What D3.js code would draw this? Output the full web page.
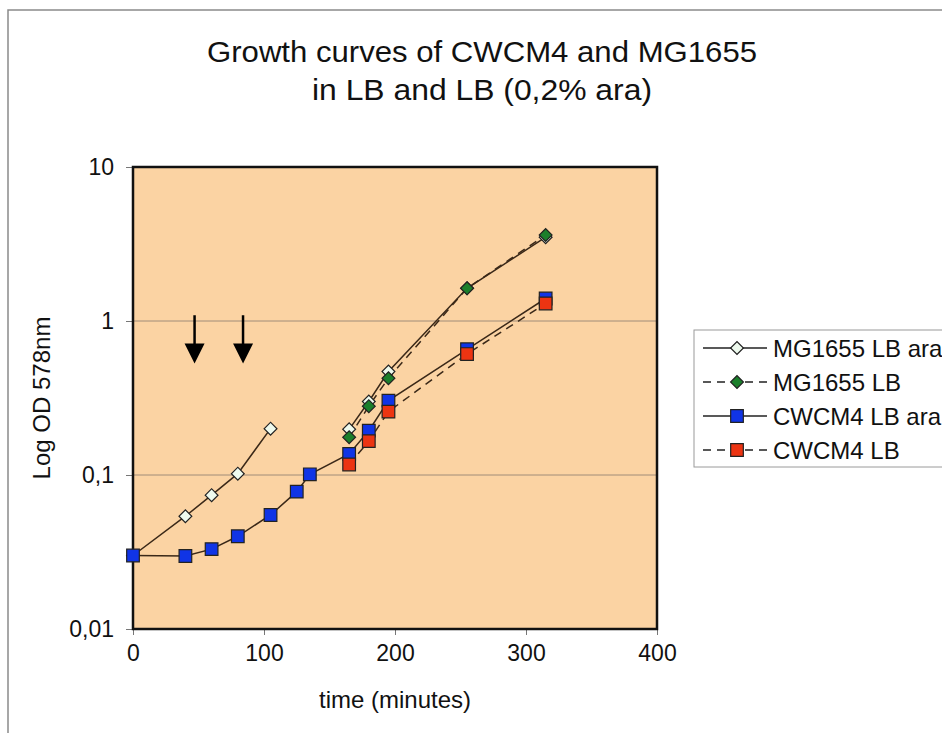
<!DOCTYPE html>
<html>
<head>
<meta charset="utf-8">
<script src="https://cdn.jsdelivr.net/npm/d3@7"></script>
<style>
  body { margin: 0; background: #fff; }
  svg { display: block; font-family: "Liberation Sans", Arial, sans-serif; }
</style>
</head>
<body>
<div id="chart"></div>
<script>
// data (time in minutes, OD578)
let seriesNames = ['MG1655 LB ara', 'MG1655 LB', 'CWCM4 LB ara', 'CWCM4 LB'];
let mgAraTime = [0, 40, 60, 80, 105, null, 165, 180, 195, 255, 315];
let mgAraOD   = [0.030, 0.054, 0.074, 0.102, 0.20, null, 0.198, 0.30, 0.47, 1.63, 3.5];
let mgLbTime  = [165, 180, 195, 255, 315];
let mgLbOD    = [0.176, 0.28, 0.425, 1.63, 3.62];
let cwAraTime = [0, 40, 60, 80, 105, 125, 135, 165, 180, 195, 255, 315];
let cwAraOD   = [0.030, 0.0298, 0.033, 0.040, 0.055, 0.078, 0.101, 0.137, 0.194, 0.304, 0.655, 1.40];
let cwLbTime  = [165, 180, 195, 255, 315];
let cwLbOD    = [0.117, 0.166, 0.258, 0.61, 1.30];
let xTicks = [0, 100, 200, 300, 400];
let yTicks = [10, 1, 0.1, 0.01];
let yTickLabels = ['10', '1', '0,1', '0,01'];
let gridValues = [1, 0.1];
// arrows mark additions of arabinose
let arrowTime = [47, 84];
let arrowTop = 1.09, arrowTip = 0.53;

let width = 942, height = 733;
let plotL = 133, plotR = 657, plotT = 167, plotB = 629;

let svg = d3.select('#chart').append('svg')
  .attr('width', width)
  .attr('height', height);

// slide frame
svg.append('path')
  .attr('d', 'M8,733 V10 H942')
  .attr('fill', 'none')
  .attr('stroke', '#8a8a8a')
  .attr('stroke-width', 1.5);

let x = d3.scaleLinear().domain([0, 400]).range([plotL, plotR]);
let y = d3.scaleLog().domain([0.01, 10]).range([plotB, plotT]);

// title
let title = svg.append('text')
  .attr('text-anchor', 'middle')
  .attr('font-size', 29)
  .attr('fill', '#111');
title.append('tspan').attr('x', 482).attr('y', 62)
  .attr('textLength', 550).attr('lengthAdjust', 'spacingAndGlyphs')
  .text('Growth curves of CWCM4 and MG1655');
title.append('tspan').attr('x', 482).attr('y', 100)
  .attr('textLength', 340).attr('lengthAdjust', 'spacingAndGlyphs')
  .text('in LB and LB (0,2% ara)');

// plot area
svg.append('rect')
  .attr('x', plotL).attr('y', plotT)
  .attr('width', plotR - plotL).attr('height', plotB - plotT)
  .attr('fill', '#fbd3a3');

svg.selectAll('.grid')
  .data(gridValues)
  .enter()
  .append('line')
  .attr('x1', plotL).attr('x2', plotR)
  .attr('y1', d => y(d)).attr('y2', d => y(d))
  .attr('stroke', '#a08c78')
  .attr('stroke-width', 1);

// axes
let xAxis = d3.axisBottom(x).tickValues(xTicks).tickSize(6).tickSizeOuter(0).tickPadding(10);
let yAxis = d3.axisLeft(y).tickValues(yTicks).tickSize(7).tickSizeOuter(0).tickPadding(12)
  .tickFormat((d, i) => yTickLabels[i]);

let gx = svg.append('g').attr('transform', 'translate(0,' + plotB + ')').call(xAxis);
let gy = svg.append('g').attr('transform', 'translate(' + plotL + ',0)').call(yAxis);
[gx, gy].forEach(g => {
  g.select('.domain').remove();
  g.selectAll('line').attr('stroke', '#777');
  g.selectAll('text').attr('font-size', 23).attr('fill', '#111').attr('font-family', '"Liberation Sans", Arial, sans-serif');
});

svg.append('rect')
  .attr('x', plotL).attr('y', plotT)
  .attr('width', plotR - plotL).attr('height', plotB - plotT)
  .attr('fill', 'none')
  .attr('stroke', '#111')
  .attr('stroke-width', 2.5);

svg.append('text')
  .attr('x', (plotL + plotR) / 2).attr('y', 708)
  .attr('text-anchor', 'middle')
  .attr('font-size', 24).attr('fill', '#111')
  .text('time (minutes)');

svg.append('text')
  .attr('transform', 'translate(50,' + (plotT + plotB) / 2 + ') rotate(-90)')
  .attr('text-anchor', 'middle')
  .attr('font-size', 24).attr('fill', '#111')
  .text('Log OD 578nm');

// series
let zip = (t, v) => t.map((d, i) => ({t: d, v: v[i]}));
let series = [
  {name: seriesNames[0], pts: zip(mgAraTime, mgAraOD), dash: null, shape: 'diamond', fill: '#eefaee'},
  {name: seriesNames[1], pts: zip(mgLbTime, mgLbOD), dash: '8,6', shape: 'diamond', fill: '#1b7f2b'},
  {name: seriesNames[2], pts: zip(cwAraTime, cwAraOD), dash: null, shape: 'square', fill: '#1034e6'},
  {name: seriesNames[3], pts: zip(cwLbTime, cwLbOD), dash: '8,6', shape: 'square', fill: '#ec3412'}
];

let line = d3.line()
  .defined(d => d.t !== null)
  .x(d => x(d.t))
  .y(d => y(d.v));

let symbolFor = s => s.shape === 'diamond'
  ? d3.symbol().type(d3.symbolSquare).size(82)()
  : d3.symbol().type(d3.symbolSquare).size(160)();

series.forEach(s => {
  svg.append('path')
    .datum(s.pts)
    .attr('d', line)
    .attr('fill', 'none')
    .attr('stroke', '#3a2818')
    .attr('stroke-width', 1.5)
    .attr('stroke-dasharray', s.dash);
});

series.forEach(s => {
  svg.selectAll(null)
    .data(s.pts.filter(d => d.t !== null))
    .enter()
    .append('path')
    .attr('d', symbolFor(s))
    .attr('transform', d => 'translate(' + x(d.t) + ',' + y(d.v) + ')' + (s.shape === 'diamond' ? ' rotate(45)' : ''))
    .attr('fill', s.fill)
    .attr('stroke', '#222')
    .attr('stroke-width', 1.2);
});

// arrows
arrowTime.forEach(t => {
  let ax = x(t), y0 = y(arrowTop), y1 = y(arrowTip);
  svg.append('line')
    .attr('x1', ax).attr('x2', ax)
    .attr('y1', y0).attr('y2', y1 - 18)
    .attr('stroke', '#000').attr('stroke-width', 2.5);
  svg.append('path')
    .attr('d', 'M' + (ax - 10) + ',' + (y1 - 20) + 'L' + (ax + 10) + ',' + (y1 - 20) + 'L' + ax + ',' + y1 + 'Z')
    .attr('fill', '#000');
});

// legend
let lg = svg.append('g');
lg.append('rect')
  .attr('x', 694).attr('y', 330)
  .attr('width', 280).attr('height', 137)
  .attr('fill', '#fff')
  .attr('stroke', '#9a9a9a')
  .attr('stroke-width', 1);

let rowY = d3.scalePoint().domain(seriesNames).range([348, 450]);
series.forEach(s => {
  let ry = rowY(s.name);
  lg.append('line')
    .attr('x1', 703).attr('x2', 767)
    .attr('y1', ry).attr('y2', ry)
    .attr('stroke', '#222').attr('stroke-width', 1.5)
    .attr('stroke-dasharray', s.dash);
  lg.append('path')
    .attr('d', symbolFor(s))
    .attr('transform', 'translate(737,' + ry + ')' + (s.shape === 'diamond' ? ' rotate(45)' : ''))
    .attr('fill', s.fill)
    .attr('stroke', '#222')
    .attr('stroke-width', 1.2);
  lg.append('text')
    .attr('x', 773).attr('y', ry + 8.5)
    .attr('font-size', 24).attr('fill', '#111')
    .text(s.name);
});
</script>
</body>
</html>
